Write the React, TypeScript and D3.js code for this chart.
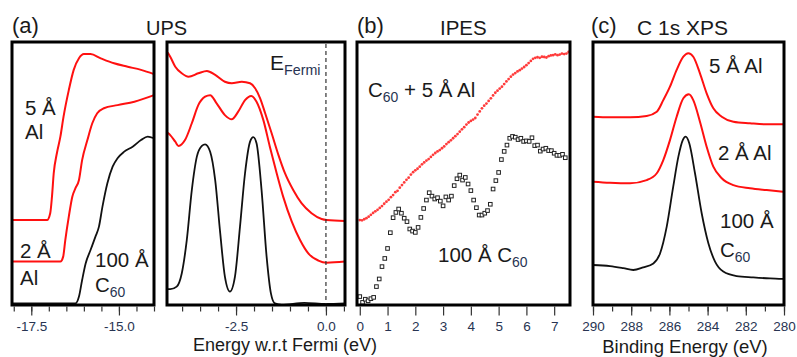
import React, { useEffect, useRef } from "react";
import * as d3 from "d3";

// ---- (a) UPS secondary electron cutoff ----
const cutAl5E = [-18.05, -17.05, -16.96, -16.91, -16.86, -16.77, -16.67, -16.58, -16.43, -16.29, -16.14, -16.0, -15.81, -15.52, -15.14, -14.75, -14.37, -14.0];
const cutAl5I = [32.3, 32.3, 34.9, 41.2, 50.1, 57.7, 64.0, 71.6, 81.7, 89.4, 93.8, 95.4, 95.4, 93.8, 91.9, 90.6, 89.4, 87.8];
const cutAl2E = [-18.05, -16.67, -16.59, -16.53, -16.43, -16.33, -16.24, -16.14, -16.05, -15.9, -15.76, -15.62, -15.43, -15.04, -14.56, -14.0];
const cutAl2I = [16.5, 16.5, 18.4, 24.7, 33.6, 41.2, 44.4, 47.5, 55.1, 62.7, 69.1, 72.9, 74.8, 76.0, 77.3, 79.8];
const cutC60E = [-18.05, -16.24, -16.14, -16.05, -15.95, -15.81, -15.67, -15.57, -15.47, -15.33, -15.18, -15.04, -14.85, -14.61, -14.37, -14.18, -14.0];
const cutC60I = [0.6, 0.6, 3.2, 9.5, 15.8, 20.9, 26.0, 29.8, 37.4, 46.3, 52.6, 55.8, 58.3, 60.2, 62.7, 64.0, 63.4];

// ---- (a) UPS valence region ----
const valAl5E = [-4.4, -4.33, -4.19, -4.01, -3.82, -3.55, -3.31, -3.08, -2.81, -2.62, -2.34, -2.11, -1.97, -1.83, -1.69, -1.51, -1.32, -1.14, -0.91, -0.68, -0.4, -0.12, 0.02, 0.53];
const valAl5I = [96.0, 94.4, 90.6, 88.1, 86.8, 88.1, 89.0, 87.5, 84.9, 84.3, 84.9, 84.3, 82.4, 78.6, 72.9, 65.3, 57.0, 50.1, 43.7, 38.7, 34.9, 32.7, 32.3, 31.9];
const valAl2E = [-4.4, -4.33, -4.19, -4.1, -3.92, -3.73, -3.55, -3.36, -3.22, -3.04, -2.81, -2.62, -2.44, -2.25, -2.08, -1.93, -1.74, -1.56, -1.37, -1.19, -0.95, -0.72, -0.49, -0.21, 0.02, 0.53];
const valAl2I = [65.5, 64.6, 62.1, 60.5, 62.7, 69.1, 76.0, 79.2, 79.8, 76.7, 72.2, 70.6, 73.5, 77.9, 79.5, 77.3, 70.3, 60.2, 50.1, 41.2, 31.7, 24.7, 19.6, 16.9, 16.1, 16.5];
const valC60E = [-4.4, -4.33, -4.15, -4.01, -3.87, -3.73, -3.59, -3.45, -3.36, -3.22, -3.08, -2.94, -2.81, -2.67, -2.53, -2.39, -2.25, -2.11, -2.02, -1.93, -1.79, -1.65, -1.53, -1.42, -1.23, -0.6, 0.0, 0.53];
const valC60I = [6.0, 6.0, 7.0, 12.0, 24.7, 43.7, 56.4, 60.5, 61.1, 58.3, 47.5, 27.3, 10.8, 5.1, 10.8, 29.8, 50.1, 62.1, 63.8, 61.5, 43.7, 18.4, 4.4, 0.6, 0.0, 0.8, 0.4, 0.6];

// ---- (b) IPES, uniform energy grids starting at 0 eV ----
const ipesAlStep = 0.08;
const ipesAlI = [32.3, 32.2, 32.6, 33.0, 33.6, 34.3, 35.0, 35.6, 36.2, 36.9, 37.6, 38.5, 39.3, 40.0, 41.0, 41.8, 42.9, 43.4, 44.6, 45.6,
  46.6, 47.6, 48.4, 49.6, 50.5, 51.2, 51.8, 52.6, 53.5, 54.2, 54.9, 55.5, 56.3, 57.1, 57.8, 58.4, 58.9, 59.6, 60.3, 61.2,
  61.9, 62.6, 63.4, 64.2, 65.0, 65.9, 66.8, 67.6, 68.6, 69.4, 70.0, 70.5, 71.1, 72.4, 73.6, 74.8, 75.8, 76.6, 77.6, 78.6,
  79.7, 80.7, 81.5, 82.3, 83.0, 84.0, 85.0, 85.9, 86.8, 87.6, 88.2, 88.8, 89.3, 89.9, 90.5, 91.2, 92.0, 92.8, 93.6, 94.0,
  94.2, 94.0, 94.4, 94.3, 94.1, 94.6, 94.9, 95.0, 95.3, 95.0, 95.2, 95.6, 95.4, 95.6, 96.2];
const ipesC60Step = 0.1;
const ipesC60I = [3.2, 1.0, 2.2, 1.6, 2.4, 2.9, 7.0, 9.9, 14.6, 17.7, 21.5, 27.5, 33.2, 35.2, 36.5, 34.9, 33.0, 31.7, 28.9, 28.1,
  27.6, 29.5, 33.3, 36.7, 39.9, 42.7, 41.4, 40.3, 40.8, 39.5, 37.7, 41.1, 39.9, 41.4, 45.4, 48.0, 49.4, 47.5, 48.5, 46.0,
  43.5, 39.9, 37.0, 34.2, 34.2, 34.9, 35.9, 38.3, 44.1, 47.3, 50.4, 55.3, 58.4, 60.8, 63.4, 64.1, 63.8, 62.9, 63.4, 62.2,
  62.4, 62.2, 63.6, 60.6, 60.8, 58.5, 59.3, 59.6, 58.7, 58.7, 57.7, 56.9, 56.9, 57.3, 56.0];

// ---- (c) C 1s XPS ----
const xpsAl5BE = [290, 289.11, 288.06, 287.19, 286.66, 286.32, 285.97, 285.62, 285.27, 285.01, 284.75, 284.4, 284.05, 283.7, 283.26, 282.65, 281.78, 280.91, 280.05];
const xpsAl5I = [71.6, 71.4, 71.4, 71.9, 73.5, 77.9, 83.0, 89.4, 94.4, 95.7, 94.4, 88.1, 80.5, 74.8, 71.6, 69.7, 69.1, 68.7, 68.7];
const xpsAl2BE = [290, 289.11, 288.06, 287.19, 286.66, 286.32, 285.97, 285.62, 285.27, 284.98, 284.75, 284.4, 284.05, 283.7, 283.26, 282.65, 281.78, 280.91, 280.05];
const xpsAl2I = [46.9, 46.5, 46.3, 47.5, 50.1, 55.1, 62.7, 71.6, 78.6, 80.1, 77.9, 69.7, 60.2, 52.6, 48.2, 45.6, 44.4, 43.7, 43.1];
const xpsC60BE = [290, 289.11, 288.41, 287.89, 287.37, 286.84, 286.49, 286.14, 285.8, 285.53, 285.3, 285.15, 284.96, 284.66, 284.31, 283.96, 283.61, 283.18, 282.48, 281.61, 280.73, 280.05];
const xpsC60I = [15.2, 14.8, 14.0, 13.3, 14.3, 15.8, 19.6, 29.8, 45.0, 56.4, 62.7, 64.0, 61.5, 50.1, 34.9, 23.5, 16.5, 12.7, 11.0, 10.5, 10.1, 9.9];

// ---- ticks ----
const cutMajor = [-17.5, -15.0];
const cutMinor = [-18.0, -17.5, -17.0, -16.5, -16.0, -15.5, -15.0, -14.5, -14.0];
const valMajor = [-2.5, 0.0];
const valMinor = [-4.0, -3.5, -3.0, -2.5, -2.0, -1.5, -1.0, -0.5, 0.0, 0.5];
const ipesMajor = [0, 1, 2, 3, 4, 5, 6, 7];
const xpsMajor = [290, 288, 286, 284, 282, 280];
const xpsMinor = [290, 289, 288, 287, 286, 285, 284, 283, 282, 281, 280];

const RED = "#ff1010";
const INK = "#1a1a1a";
const NAVY = "#283452";
const FONT = "'Liberation Sans', Arial, sans-serif";

const App = () => {
  const ref = useRef<SVGSVGElement | null>(null);

  useEffect(() => {
    drawChart();
  }, []);

  const drawChart = () => {
    const svg = d3.select(ref.current);
    svg.selectAll("*").remove();
    svg.attr("font-family", FONT);

    const top = 42;
    const bottom = 305;
    const y = d3.scaleLinear().domain([0, 100]).range([bottom, top]);

    const panels = [
      { left: 12, right: 154, domain: [-18.05, -14.0], major: cutMajor, minor: cutMinor, pad: 6, fmt: (v: number) => v.toFixed(1) },
      { left: 167, right: 345, domain: [-4.42, 0.53], major: valMajor, minor: valMinor, pad: 6, fmt: (v: number) => v.toFixed(1) },
      { left: 357, right: 570, domain: [-0.1, 7.57], major: ipesMajor, minor: [] as number[], pad: 6, fmt: (v: number) => String(v) },
      { left: 593, right: 784, domain: [290, 280], major: xpsMajor, minor: xpsMinor, pad: 6, fmt: (v: number) => String(v) },
    ];

    const xs = panels.map((p) => d3.scaleLinear().domain(p.domain).range([p.left, p.right]));

    const line = (g, x, E: number[], I: number[], color: string, w: number) => {
      const pts = E.map((e, i) => [e, I[i]]);
      g.append("path")
        .datum(pts)
        .attr("fill", "none")
        .attr("stroke", color)
        .attr("stroke-width", w)
        .attr("stroke-linejoin", "round")
        .attr("d", d3.line().x((d) => x(d[0])).y((d) => y(d[1])).curve(d3.curveMonotoneX));
    };

    const label = (x: number, yy: number, parts: [string, boolean][], size: number) => {
      const t = svg.append("text").attr("x", x).attr("y", yy).attr("font-size", size).attr("fill", INK);
      let sub = false;
      parts.forEach(([s, isSub]) => {
        const ts = t.append("tspan").text(s);
        if (isSub) ts.attr("font-size", size * 0.68).attr("fill", NAVY);
        if (isSub && !sub) ts.attr("dy", size * 0.25);
        if (!isSub && sub) ts.attr("dy", -size * 0.25);
        sub = isSub;
      });
    };

    // curves
    line(svg, xs[0], cutAl5E, cutAl5I, RED, 2);
    line(svg, xs[0], cutAl2E, cutAl2I, RED, 2);
    line(svg, xs[0], cutC60E, cutC60I, "#111", 1.8);

    line(svg, xs[1], valAl5E, valAl5I, RED, 2);
    line(svg, xs[1], valAl2E, valAl2I, RED, 2);
    line(svg, xs[1], valC60E, valC60I, "#111", 1.8);

    // Fermi level
    svg.append("line")
      .attr("x1", xs[1](0)).attr("x2", xs[1](0))
      .attr("y1", top + 2).attr("y2", bottom - 1)
      .attr("stroke", "#333").attr("stroke-width", 1.2).attr("stroke-dasharray", "4,3");

    svg.append("g").selectAll("circle")
      .data(ipesAlI)
      .enter()
      .append("circle")
      .attr("cx", (d, i) => xs[2](i * ipesAlStep))
      .attr("cy", (d) => y(d))
      .attr("r", 1.4)
      .attr("fill", "#ff3b3b");

    svg.append("g").selectAll("rect")
      .data(ipesC60I)
      .enter()
      .append("rect")
      .attr("x", (d, i) => xs[2](i * ipesC60Step) - 1.8)
      .attr("y", (d) => y(d) - 1.8)
      .attr("width", 3.6)
      .attr("height", 3.6)
      .attr("fill", "white")
      .attr("stroke", "#222")
      .attr("stroke-width", 1);

    line(svg, xs[3], xpsAl5BE, xpsAl5I, RED, 2);
    line(svg, xs[3], xpsAl2BE, xpsAl2I, RED, 2);
    line(svg, xs[3], xpsC60BE, xpsC60I, "#111", 1.8);

    // frames and axes
    panels.forEach((p, k) => {
      svg.append("rect")
        .attr("x", p.left).attr("y", top)
        .attr("width", p.right - p.left).attr("height", bottom - top)
        .attr("fill", "none").attr("stroke", "#000").attr("stroke-width", 3);

      if (p.minor.length) {
        const gm = svg.append("g")
          .attr("transform", `translate(0,${bottom + 1.5})`)
          .call(d3.axisBottom(xs[k]).tickValues(p.minor).tickSize(5).tickFormat(() => ""));
        gm.select(".domain").remove();
        gm.selectAll("line").attr("stroke", "#333").attr("stroke-width", 1.2);
      }
      const ga = svg.append("g")
        .attr("transform", `translate(0,${bottom + 1.5})`)
        .call(d3.axisBottom(xs[k]).tickValues(p.major).tickSize(9).tickPadding(p.pad).tickFormat(p.fmt));
      ga.select(".domain").remove();
      ga.attr("font-family", FONT).attr("font-size", 13.5);
      ga.selectAll("line").attr("stroke", "#333").attr("stroke-width", 1.2);
      ga.selectAll("text").attr("fill", NAVY);
    });

    // titles
    label(12, 33, [["(a)", false]], 22);
    label(146, 35, [["UPS", false]], 20);
    label(357, 33, [["(b)", false]], 22);
    label(440, 35, [["IPES", false]], 20.5);
    label(591, 33, [["(c)", false]], 22);
    label(637, 35, [["C 1s XPS", false]], 21);

    // panel labels
    label(25, 115, [["5 Å", false]], 20.5);
    label(25, 139, [["Al", false]], 20.5);
    label(20, 258, [["2 Å", false]], 20.5);
    label(20, 285, [["Al", false]], 20.5);
    label(95, 267, [["100 Å", false]], 20.5);
    label(95, 292, [["C", false], ["60", true]], 20.5);

    label(270, 70, [["E", false], ["Fermi", true]], 21);

    label(368, 97, [["C", false], ["60", true], [" + 5 Å Al", false]], 20.5);
    label(438, 262, [["100 Å C", false], ["60", true]], 20.5);

    label(709, 73, [["5 Å Al", false]], 20.5);
    label(718, 160, [["2 Å Al", false]], 20.5);
    label(720, 228, [["100 Å", false]], 20.5);
    label(720, 257, [["C", false], ["60", true]], 20.5);

    // axis titles
    svg.append("text").attr("x", 285).attr("y", 351).attr("text-anchor", "middle")
      .attr("font-size", 18).attr("fill", INK).text("Energy w.r.t Fermi (eV)");
    svg.append("text").attr("x", 685).attr("y", 353).attr("text-anchor", "middle")
      .attr("font-size", 18.5).attr("fill", INK).text("Binding Energy (eV)");
  };

  return (
    <svg
      ref={ref}
      width={797}
      height={357}
      style={{ position: "absolute", left: 0, top: 0, background: "white" }}
    />
  );
};

export default App;
